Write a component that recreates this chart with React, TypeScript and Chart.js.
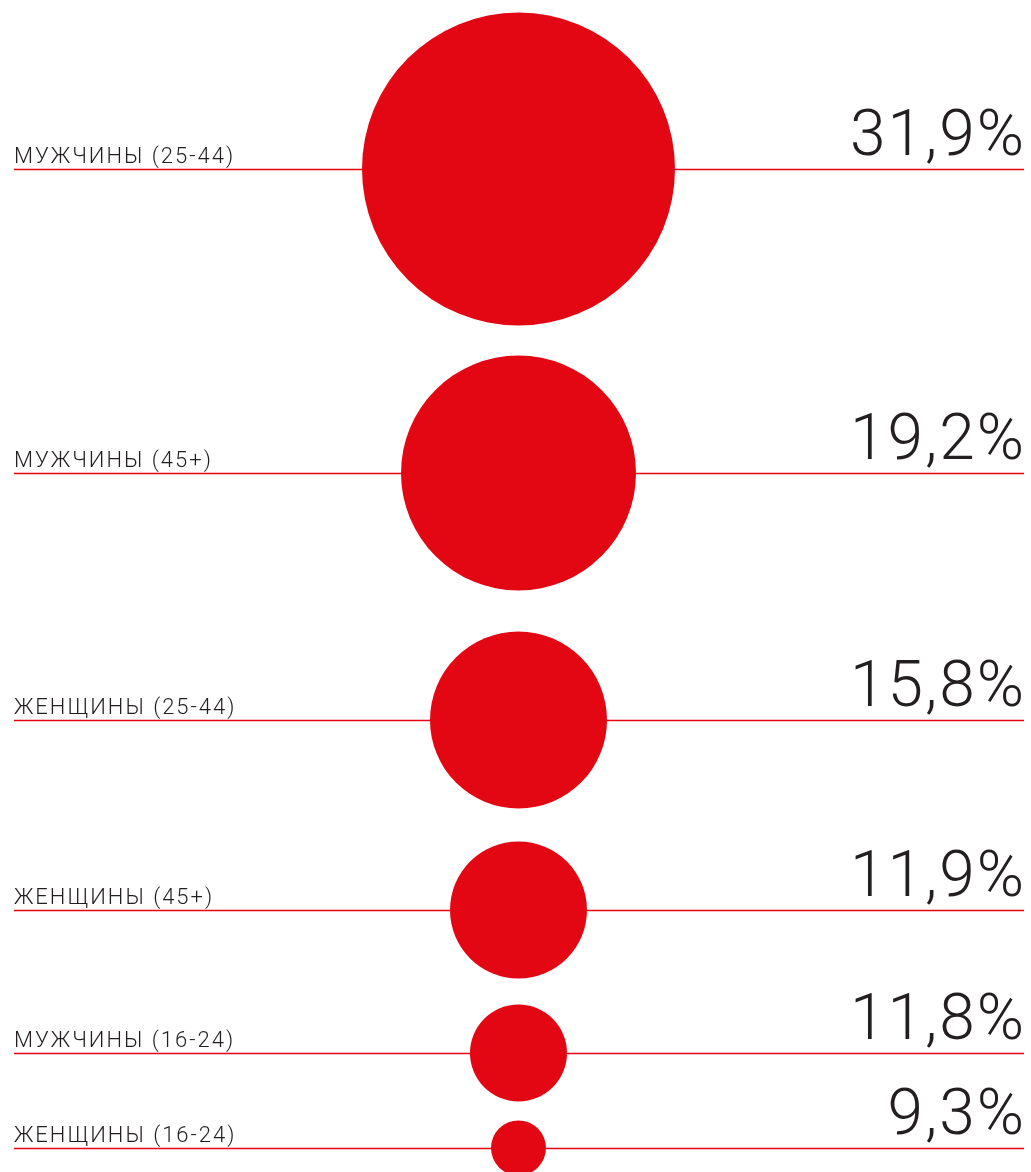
import React, { useEffect, useRef } from "react";
import { Chart, registerables } from "chart.js";

Chart.register(...registerables);

const categories = [
  "МУЖЧИНЫ (25-44)",
  "МУЖЧИНЫ (45+)",
  "ЖЕНЩИНЫ (25-44)",
  "ЖЕНЩИНЫ (45+)",
  "МУЖЧИНЫ (16-24)",
  "ЖЕНЩИНЫ (16-24)",
];
const shares = [31.9, 19.2, 15.8, 11.9, 11.8, 9.3];
// layout helpers (not data)
const bubbleSizes = [156.5, 117.5, 88.5, 68.5, 48.5, 27.5];
const rowPositions = [169, 473, 720, 910, 1053, 1148];

const RED = "rgb(227,6,19)";
const W = 1031;
const H = 1172;

const fmt = (v: number) => v.toFixed(1).replace(".", ",") + "%";

export default function App() {
  const ref = useRef<HTMLCanvasElement | null>(null);
  useEffect(() => {
    if (!ref.current) return;
    const rowsPlugin = {
      id: "rows",
      beforeDatasetsDraw(chart: any) {
        const { ctx, scales } = chart;
        const xs = scales.x;
        const ys = scales.y;
        ctx.save();
        rowPositions.forEach((p, i) => {
          const y = Math.round(ys.getPixelForValue(p)) + 0.5;
          ctx.strokeStyle = RED;
          ctx.lineWidth = 1.3;
          ctx.beginPath();
          ctx.moveTo(xs.getPixelForValue(14), y);
          ctx.lineTo(xs.getPixelForValue(1024), y);
          ctx.stroke();
          ctx.fillStyle = "#231f20";
          ctx.textBaseline = "alphabetic";
          ctx.textAlign = "left";
          ctx.font = "300 22px Roboto";
          (ctx as any).letterSpacing = "2px";
          ctx.fillText(categories[i], xs.getPixelForValue(14), y - 7);
          ctx.textAlign = "right";
          ctx.font = "300 64px Roboto";
          (ctx as any).letterSpacing = "2px";
          ctx.fillText(fmt(shares[i]), xs.getPixelForValue(1024) + 2, y - 15);
          (ctx as any).letterSpacing = "0px";
        });
        ctx.restore();
      },
    };
    const chart = new Chart(ref.current, {
      type: "bubble",
      data: {
        datasets: [
          {
            data: shares.map((v, i) => ({ x: 518.5, y: rowPositions[i], r: bubbleSizes[i], v })),
            backgroundColor: RED,
            borderWidth: 0,
            hoverBorderWidth: 0,
            clip: false,
          },
        ],
      },
      options: {
        animation: false,
        responsive: false,
        maintainAspectRatio: false,
        layout: { padding: 0, autoPadding: false },
        events: [],
        plugins: { legend: { display: false }, tooltip: { enabled: false } },
        scales: {
          x: { type: "linear", min: 0, max: W, display: false },
          y: { type: "linear", min: 0, max: H, reverse: true, display: false },
        },
      } as any,
      plugins: [rowsPlugin],
    });
    return () => chart.destroy();
  }, []);
  return (
    <div style={{ position: "fixed", left: 0, top: 0, width: W, height: H, background: "#fff" }}>
      <canvas ref={ref} width={W} height={H} style={{ width: W, height: H, display: "block" }} />
    </div>
  );
}
